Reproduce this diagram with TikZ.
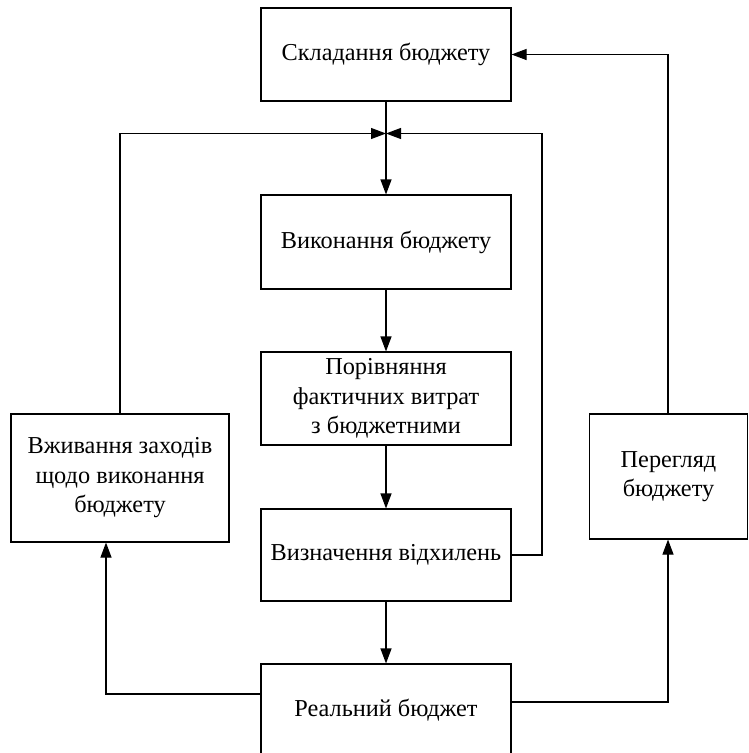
\documentclass[tikz,border=0pt]{standalone}
\usepackage{fontspec}
\setmainfont{Liberation Serif}
\usetikzlibrary{arrows.meta}

\tikzset{
  stagebox/.style={draw, line width=1.1pt, align=center, inner sep=0pt,
    font=\fontsize{24.3}{29.5}\selectfont},
  flowline/.style={line width=1.1pt},
  flowarrow/.style={flowline, -{Triangle[length=15pt,width=11pt]}}
}

\begin{document}
\begin{tikzpicture}[x=1pt, y=-1pt]
  %%%%% FRAME %%%%%
  \clip (0,0) rectangle (749,753);

  %%%%% CENTRE COLUMN %%%%%
  \node[stagebox, minimum width=250pt, minimum height=93pt] (plan) at (386,54.5) {Складання бюджету};
  \node[stagebox, minimum width=250pt, minimum height=94pt] (exec) at (386,242) {Виконання бюджету};
  \node[stagebox, minimum width=250pt, minimum height=93pt] (comp) at (386,398.5) {Порівняння\\фактичних витрат\\з бюджетними};
  \node[stagebox, minimum width=250pt, minimum height=92pt] (dev) at (386,555) {Визначення відхилень};
  \node[stagebox, minimum width=250pt, minimum height=93pt] (real) at (386,710.5) {Реальний бюджет};

  %%%%% SIDE BOXES %%%%%
  \node[stagebox, minimum width=218pt, minimum height=128pt] (act) at (120,478) {Вживання заходів\\щодо виконання\\бюджету};
  \node[stagebox, minimum width=158pt, minimum height=125pt] (rev) at (668.5,476.5) {Перегляд\\бюджету};

  \coordinate (merge) at (386,133.5);
  \coordinate (devturn) at (542,133.5);
  \coordinate (actturn) at (106,694);
  \coordinate (revturn) at (668,702);
  \coordinate (topturn) at (668,54.5);

  %%%%% MAIN FLOW %%%%%
  \draw[flowarrow] (plan) -- (exec);
  \draw[flowarrow] (exec) -- (comp);
  \draw[flowarrow] (comp) -- (dev);
  \draw[flowarrow] (dev) -- (real);

  %%%%% FEEDBACK %%%%%
  \draw[flowarrow] (dev.east) -- (dev.east -| devturn) -- (devturn) -- (merge);
  \draw[flowarrow] (act.north) -- (act.north |- merge) -- (merge);
  \draw[flowarrow] (real.west |- actturn) -- (actturn) -- (actturn |- act.south);
  \draw[flowarrow] (real.east |- revturn) -- (revturn) -- (revturn |- rev.south);
  \draw[flowarrow] (rev.north -| topturn) -- (topturn) -- (plan.east);
\end{tikzpicture}
\end{document}
